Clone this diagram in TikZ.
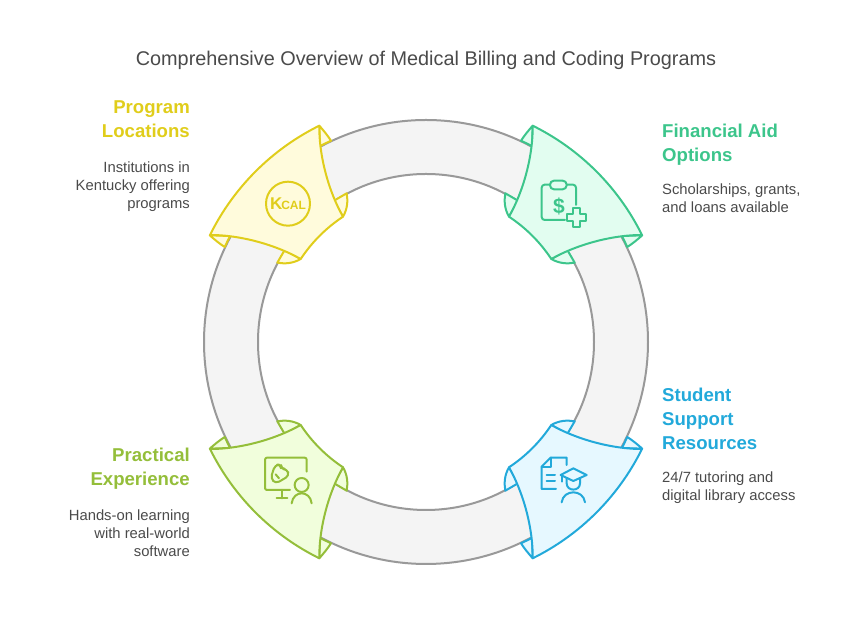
\documentclass[tikz,border=0pt]{standalone}
\usepackage{fontspec}
\setmainfont{Liberation Sans}
\usetikzlibrary{positioning}
\definecolor{ringline}{HTML}{999999}
\definecolor{ringfill}{HTML}{F4F4F4}
\definecolor{bodytext}{HTML}{4A4A4A}
\definecolor{yellowline}{HTML}{E0CD1B}
\definecolor{yellowfill}{HTML}{FFFBDC}
\definecolor{greenline}{HTML}{3CC58B}
\definecolor{greenfill}{HTML}{E2FDF0}
\definecolor{oliveline}{HTML}{94BE3A}
\definecolor{olivefill}{HTML}{F1FEDC}
\definecolor{blueline}{HTML}{22A9DA}
\definecolor{bluefill}{HTML}{E6F8FF}
\tikzset{
  ringband/.style={draw=ringline,fill=ringfill,line width=2pt,even odd rule},
  yellowwedge/.style={draw=yellowline,fill=yellowfill,line width=2pt,line join=round},
  greenwedge/.style={draw=greenline,fill=greenfill,line width=2pt,line join=round},
  olivewedge/.style={draw=oliveline,fill=olivefill,line width=2pt,line join=round},
  bluewedge/.style={draw=blueline,fill=bluefill,line width=2pt,line join=round},
  iconline/.style={line width=2pt,line cap=round,line join=round},
  headlabel/.style={inner sep=0pt,font=\fontsize{18.6}{24}\selectfont\bfseries},
  notelabel/.style={inner sep=0pt,text=bodytext,font=\fontsize{14.8}{18}\selectfont},
  titlelabel/.style={inner sep=0pt,text=bodytext,font=\fontsize{19.85}{24}\selectfont}
}
% one corner piece, drawn for the top left and mirrored for the others
\newcommand{\wedgeshape}[1]{
  \draw[#1] (-106.7,216.3) .. controls (-102,211) and (-98,206) .. (-95,201.3) -- (-106,196) -- cycle;
  \draw[#1] (-83,125.3) .. controls (-78.5,133) and (-78,141) .. (-79.3,148.7) -- (-92,141.3) -- cycle;
  \draw[#1] (-216.3,106.7) .. controls (-211,102) and (-206,98) .. (-201.3,95) -- (-196,106) -- cycle;
  \draw[#1] (-125.3,83) .. controls (-133,78.5) and (-141,78) .. (-148.7,79.3) -- (-141.3,92) -- cycle;
  \draw[#1] (-106.7,216.3) arc[start angle=116.3,end angle=153.7,radius=241]
    .. controls (-185,107) and (-150,97) .. (-125.3,83)
    arc[start angle=146.5,end angle=123.5,radius=150]
    .. controls (-97,150) and (-107,185) .. cycle;
}
\begin{document}
\begin{tikzpicture}[x=1pt,y=1pt]
  \useasboundingbox (0,0) rectangle (852,636);
  \node[titlelabel] (charttitle) at (426,576) {Comprehensive Overview of Medical Billing and Coding Programs};

  \draw[ringband] (426,294) circle[radius=222] (426,294) circle[radius=168];

  \begin{scope}[shift={(426,294)}]
    \wedgeshape{yellowwedge}
  \end{scope}
  \begin{scope}[shift={(426,294)},xscale=-1]
    \wedgeshape{greenwedge}
  \end{scope}
  \begin{scope}[shift={(426,294)},yscale=-1]
    \wedgeshape{olivewedge}
  \end{scope}
  \begin{scope}[shift={(426,294)},xscale=-1,yscale=-1]
    \wedgeshape{bluewedge}
  \end{scope}

  % kcal badge
  \draw[iconline,draw=yellowline] (288,432.3) circle[radius=22];
  \node[inner sep=0pt,text=yellowline] (kcalmark) at (288,432) {\bfseries\fontsize{17}{17}\selectfont K\hspace{-1pt}\fontsize{12}{12}\selectfont CAL};

  % clipboard
  \begin{scope}[shift={(530,466)},x=0.3333pt,y=-0.3333pt]
    \draw[iconline,draw=greenline,rounded corners=3pt] (138,105) -- (138,44) -- (35,44) -- (35,150) -- (105,150);
    \draw[iconline,draw=greenline,fill=greenfill,rounded corners=4pt] (60,32) rectangle (110,58);
    \node[inner sep=0pt,text=greenline] (dollarmark) at (87,110) {\bfseries\fontsize{21}{21}\selectfont\$};
    \draw[iconline,draw=greenline] (130,113) -- (150,113) -- (150,132) -- (168,132) -- (168,152) -- (150,152)
      -- (150,170) -- (130,170) -- (130,152) -- (112,152) -- (112,132) -- (130,132) -- cycle;
  \end{scope}

  % document and graduate
  \begin{scope}[shift={(530,191)},x=0.3333pt,y=-0.3333pt]
    \draw[iconline,draw=blueline] (110,60) -- (110,38) -- (62,38) -- (35,65) -- (35,132) -- (78,132);
    \draw[iconline,draw=blueline] (62,38) -- (62,65) -- (35,65);
    \draw[iconline,draw=blueline] (50,90) -- (75,90) (50,108) -- (75,108);
    \draw[iconline,draw=blueline] (92,90) -- (130,70) -- (170,90) -- (130,108) -- cycle;
    \draw[iconline,draw=blueline] (97,90) -- (97,110);
    \draw[iconline,draw=blueline] (110,100) -- (110,115) .. controls (110,140) and (150,140) .. (150,115) -- (150,100);
    \draw[iconline,draw=blueline] (95,172) .. controls (100,132) and (160,132) .. (165,172);
  \end{scope}

  % screen and presenter
  \begin{scope}[shift={(255,191)},x=0.3333pt,y=-0.3333pt]
    \draw[iconline,draw=oliveline,rounded corners=2pt] (155,80) -- (155,38) -- (30,38) -- (30,135) -- (105,135);
    \draw[iconline,draw=oliveline] (80,135) -- (80,160) (65,160) -- (97,160);
    \draw[iconline,draw=oliveline,rounded corners=4pt] (47,100) -- (60,60) -- (78,58) -- (78,72) -- (96,72) -- (103,92) -- (62,116) -- cycle;
    \draw[iconline,draw=oliveline] (62,88) -- (72,100);
    \draw[iconline,draw=oliveline] (140,120) circle[radius=21];
    \draw[iconline,draw=oliveline] (110,175) .. controls (115,135) and (165,135) .. (170,175);
  \end{scope}

  % labels on the left
  \node[headlabel,text=yellowline,align=right,anchor=north east] (locationhead) at (190,535) {Program\\Locations};
  \node[notelabel,align=right,anchor=north east] (locationnote) at (190,474) {Institutions in\\Kentucky offering\\programs};
  \node[headlabel,text=oliveline,align=right,anchor=north east] (practicehead) at (190,188) {Practical\\Experience};
  \node[notelabel,align=right,anchor=north east] (practicenote) at (190,126) {Hands-on learning\\with real-world\\software};

  % labels on the right
  \node[headlabel,text=greenline,align=left,anchor=north west] (aidhead) at (662,512) {Financial Aid\\Options};
  \node[notelabel,align=left,anchor=north west] (aidnote) at (662,452) {Scholarships, grants,\\and loans available};
  \node[headlabel,text=blueline,align=left,anchor=north west] (supporthead) at (662,248) {Student\\Support\\Resources};
  \node[notelabel,align=left,anchor=north west] (supportnote) at (662,164) {24/7 tutoring and\\digital library access};
\end{tikzpicture}
\end{document}
